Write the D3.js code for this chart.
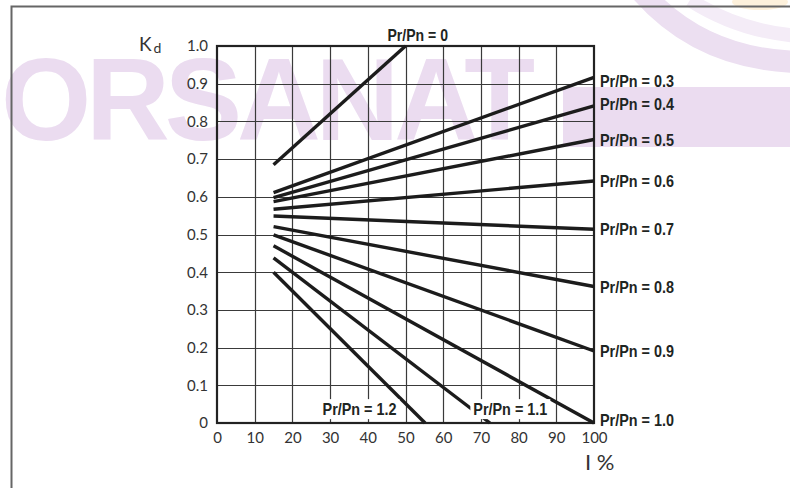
<!DOCTYPE html>
<html>
<head>
<meta charset="utf-8">
<script src="https://cdn.jsdelivr.net/npm/d3@7/dist/d3.min.js"></script>
<style>
  html, body { margin: 0; padding: 0; background: #fff; }
  svg { display: block; }
</style>
</head>
<body>
<svg id="chart" width="790" height="488"></svg>
<script>
// ---- data ----
const seriesNames = ["0", "0.3", "0.4", "0.5", "0.6", "0.7", "0.8", "0.9", "1.0", "1.1", "1.2"];
const startI  = [15, 15, 15, 15, 15, 15, 15, 15, 15, 15, 15];
const startKd = [0.685, 0.611, 0.598, 0.587, 0.567, 0.549, 0.521, 0.499, 0.470, 0.438, 0.400];
const endI    = [50, 100, 100, 100, 100, 100, 100, 100, 100, 72.4, 55.2];
const endKd   = [1.0, 0.917, 0.841, 0.752, 0.642, 0.514, 0.362, 0.191, 0.0, 0.0, 0.0];
const xTickVals = [0, 10, 20, 30, 40, 50, 60, 70, 80, 90, 100];
const xTickLabels = ["0", "10", "20", "30", "40", "50", "60", "70", "80", "90", "100"];
const yTickVals = [0, 0.1, 0.2, 0.3, 0.4, 0.5, 0.6, 0.7, 0.8, 0.9, 1.0];
const yTickLabels = ["0", "0.1", "0.2", "0.3", "0.4", "0.5", "0.6", "0.7", "0.8", "0.9", "1.0"];
const xTitle = "I %";
const yTitleMain = "K";
const yTitleSub = "d";

// ---- setup ----
const svg = d3.select("#chart");
const x = d3.scaleLinear().domain([0, 100]).range([217, 594]);
const y = d3.scaleLinear().domain([0, 1]).range([423, 46]);

const tickFont = "Lato, 'Open Sans', 'DejaVu Sans', sans-serif";
const boldFont = "'Liberation Sans', Arial, sans-serif";
const ink = "#1c1c1c";

// ---- watermark (decorative background) ----
const wm = svg.append("g").attr("class", "watermark");
wm.append("path")
  .attr("d", "M640,-10 Q700,60 800,62")
  .attr("fill", "none").attr("stroke", "#ecdff1").attr("stroke-width", 22);
wm.append("path")
  .attr("d", "M690,0 Q740,32 800,36")
  .attr("fill", "none").attr("stroke", "#f4ecf7").attr("stroke-width", 14);
wm.append("ellipse").attr("cx", 760).attr("cy", 2).attr("rx", 28).attr("ry", 8).attr("fill", "#fdf1dc");
wm.append("text")
  .attr("x", 1).attr("y", 140)
  .attr("textLength", 534).attr("lengthAdjust", "spacing")
  .style("font-family", "'Liberation Sans', Arial, sans-serif")
  .style("font-weight", "bold").style("font-size", "116px")
  .attr("fill", "#ebdcf0")
  .text("ORSANAT");
wm.append("rect").attr("x", 563).attr("y", 87).attr("width", 240).attr("height", 60).attr("fill", "#ebdcf0");

// ---- outer frame ----
svg.append("path")
  .attr("d", "M11.5,488 V6.5 H790")
  .attr("fill", "none").attr("stroke", "#666").attr("stroke-width", 2);

// ---- grid ----
const grid = svg.append("g").attr("class", "grid");
grid.selectAll("line.v").data(xTickVals.slice(1, -1)).join("line")
  .attr("class", "v")
  .attr("x1", d => Math.round(x(d)) + 0.5).attr("x2", d => Math.round(x(d)) + 0.5)
  .attr("y1", y(0)).attr("y2", y(1))
  .attr("stroke", "#3a3a3a").attr("stroke-width", 1.2);
grid.selectAll("line.h").data(yTickVals.slice(1, -1)).join("line")
  .attr("class", "h")
  .attr("y1", d => Math.round(y(d)) + 0.5).attr("y2", d => Math.round(y(d)) + 0.5)
  .attr("x1", x(0)).attr("x2", x(100))
  .attr("stroke", "#3a3a3a").attr("stroke-width", 1.2);

// ---- plot border ----
svg.append("rect")
  .attr("x", x(0)).attr("y", y(1))
  .attr("width", x(100) - x(0)).attr("height", y(0) - y(1))
  .attr("fill", "none").attr("stroke", "#222").attr("stroke-width", 2.2);

// ---- axes (labels only) ----
const xAxis = d3.axisBottom(x).tickValues(xTickVals)
  .tickFormat((d, i) => xTickLabels[i]).tickSize(0).tickPadding(9);
const gx = svg.append("g").attr("transform", `translate(0,${y(0)})`).call(xAxis);
gx.select(".domain").remove();
gx.selectAll("text").style("font-family", tickFont).style("font-size", "15px")
  .attr("fill", "#333");

const yAxis = d3.axisLeft(y).tickValues(yTickVals)
  .tickFormat((d, i) => yTickLabels[i]).tickSize(0).tickPadding(9);
const gy = svg.append("g").attr("transform", `translate(${x(0)},0)`).call(yAxis);
gy.select(".domain").remove();
gy.selectAll("text").style("font-family", tickFont).style("font-size", "15px")
  .attr("fill", "#333");

// ---- curves ----
const series = seriesNames.map((n, i) => ({
  name: n,
  pts: [[startI[i], startKd[i]], [endI[i], endKd[i]]]
}));
const line = d3.line().x(d => x(d[0])).y(d => y(d[1]));
svg.append("g").selectAll("path").data(series).join("path")
  .attr("d", d => line(d.pts))
  .attr("fill", "none").attr("stroke", ink).attr("stroke-width", 3.4)
  .attr("stroke-linecap", "butt");

// ---- series labels ----
const lab = svg.append("g").style("font-family", boldFont)
  .style("font-weight", "bold").style("font-size", "17px").attr("fill", "#1e2522");

function condensed(sel, txt) {
  sel.text(txt)
    .attr("textLength", txt.length * 6.72)
    .attr("lengthAdjust", "spacingAndGlyphs");
  return sel;
}

// right-side labels (0.3 .. 1.0)
const nudge = {"0.3": 4, "0.4": -2, "1.0": -3};
series.slice(1, 9).forEach(s => {
  condensed(lab.append("text")
    .attr("x", x(100) + 6)
    .attr("y", y(s.pts[1][1]) + (nudge[s.name] || 0))
    .attr("dy", "0.36em"), `Pr/Pn = ${s.name}`);
});

// top label for 0
condensed(lab.append("text")
  .attr("x", x(endI[0]) - 18).attr("y", y(1) - 11).attr("dy", "0.36em"),
  `Pr/Pn = ${seriesNames[0]}`);

// bottom labels 1.1 and 1.2 with white background
[["1.1", 68], ["1.2", 28]].forEach(([n, xi]) => {
  const g = lab.append("g");
  const t = condensed(g.append("text")
    .attr("x", x(xi)).attr("y", y(0) - 14).attr("dy", "0.36em"), `Pr/Pn = ${n}`);
  const bb = t.node().getBBox();
  g.insert("rect", "text")
    .attr("x", bb.x - 3).attr("y", bb.y - 1)
    .attr("width", bb.width + 6).attr("height", bb.height + 1)
    .attr("fill", "#fff");
});

// ---- axis titles ----
const kt = svg.append("text").attr("x", 139).attr("y", 51)
  .style("font-family", tickFont).style("font-size", "19px").attr("fill", "#333");
kt.append("tspan").text(yTitleMain);
kt.append("tspan").attr("dx", 2).attr("dy", 2).style("font-size", "14px").text(yTitleSub);

svg.append("text").attr("x", 585).attr("y", 470)
  .style("font-family", tickFont).style("font-size", "22px").attr("fill", "#333")
  .text(xTitle);
</script>
</body>
</html>
